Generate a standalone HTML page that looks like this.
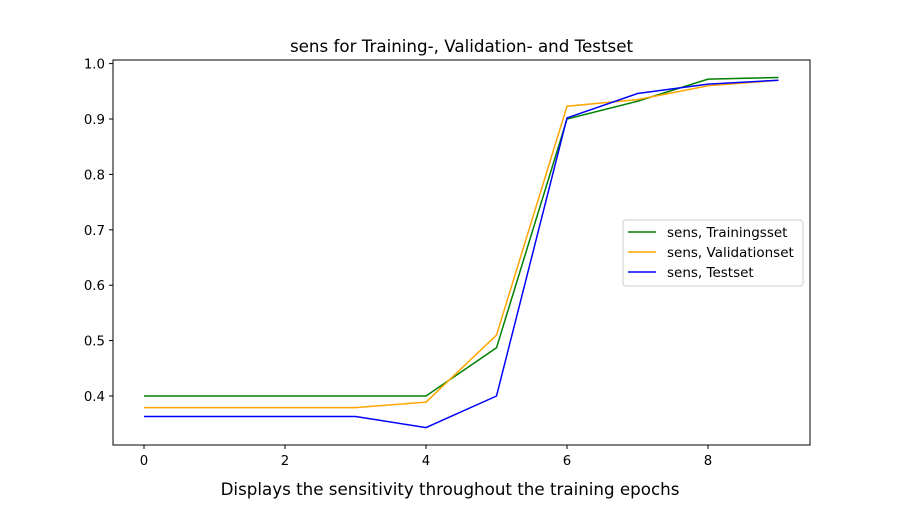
<!DOCTYPE html>
<html><head><meta charset="utf-8"><style>body{margin:0;background:#fff}svg text{font-family:"DejaVu Sans","Liberation Sans",sans-serif}</style></head>
<body>
<svg id="c" width="900" height="500" xmlns="http://www.w3.org/2000/svg"></svg>
<script>
const epochs=[0,1,2,3,4,5,6,7,8,9];
const training=[0.4,0.4,0.4,0.4,0.4,0.487,0.9,0.932,0.972,0.975];
const validation=[0.379,0.379,0.379,0.379,0.389,0.51,0.923,0.935,0.96,0.97];
const test=[0.363,0.363,0.363,0.363,0.343,0.4,0.902,0.946,0.963,0.97];
const xTicks=[0,2,4,6,8];
const yTicks=[0.4,0.5,0.6,0.7,0.8,0.9,1.0];
const L=113,R=810,T=60,B=445;
const x=v=>144+v*70.5;
const y=v=>396-(v-0.4)*554;
const s=document.getElementById('c');const N='http://www.w3.org/2000/svg';
function mk(t,a,p){const e=document.createElementNS(N,t);for(const k in a)e.setAttribute(k,a[k]);(p||s).appendChild(e);return e;}
const title=mk('text',{x:461.5,y:52,'text-anchor':'middle','font-size':16.7});title.textContent='sens for Training-, Validation- and Testset';


const xl=mk('text',{x:450,y:495,'text-anchor':'middle','font-size':16.7});xl.textContent='Displays the sensitivity throughout the training epochs';


xTicks.forEach(v=>{mk('line',{x1:x(v),x2:x(v),y1:B,y2:B+4,stroke:'#000'});const t=mk('text',{x:x(v),y:B+20,'text-anchor':'middle','font-size':13.3});t.textContent=v;

});
yTicks.forEach(v=>{mk('line',{x1:L-4,x2:L,y1:y(v),y2:y(v),stroke:'#000'});const t=mk('text',{x:L-8,y:y(v)+5,'text-anchor':'end','font-size':13.3});t.textContent=v.toFixed(1);

});
const series=[[training,'green','sens, Trainingsset','training-line'],[validation,'orange','sens, Validationset','validation-line'],[test,'blue','sens, Testset','test-line']];
series.forEach(([d,c,lab,nm])=>{const p=mk('polyline',{points:d.map((v,i)=>x(epochs[i])+','+y(v)).join(' '),fill:'none',stroke:c,'stroke-width':1.5});

});
const frame=mk('rect',{x:L,y:T,width:R-L,height:B-T,fill:'none',stroke:'#000','stroke-width':1});


const lg=mk('g',{});


mk('rect',{x:623,y:220,width:180,height:66,rx:3,fill:'#fff',stroke:'#ccc'},lg);
series.forEach(([d,c,lab],i)=>{const yy=232+i*20;mk('line',{x1:628,x2:656,y1:yy,y2:yy,stroke:c,'stroke-width':1.5},lg);const t=mk('text',{x:667,y:yy+5,'font-size':13.5},lg);t.textContent=lab;

});
</script>
</body></html>
